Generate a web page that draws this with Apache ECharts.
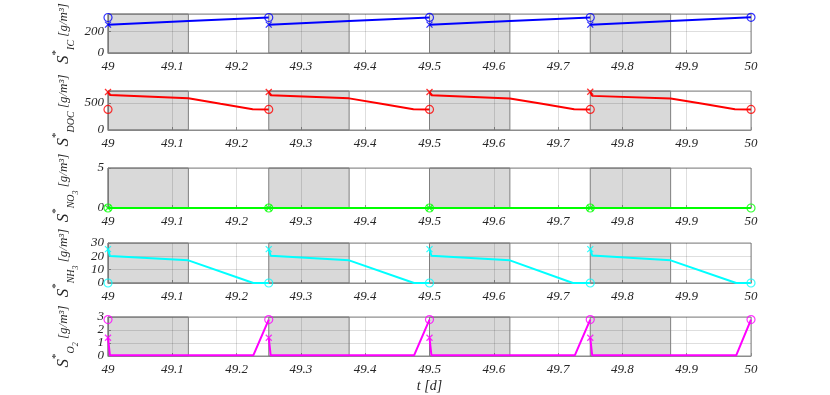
<!DOCTYPE html>
<html>
<head>
<meta charset="utf-8">
<script src="https://cdn.jsdelivr.net/npm/echarts@6/dist/echarts.min.js"></script>
<style>
html, body { margin: 0; padding: 0; background: #fff; }
#chart { width: 830px; height: 395px; }
</style>
</head>
<body>
<div id="chart"></div>
<script>
// 时间轴刻度
var xTicks = [49, 49.1, 49.2, 49.3, 49.4, 49.5, 49.6, 49.7, 49.8, 49.9, 50];
// 灰色阶段 (start, end)
var shadePhases = [[49, 49.125], [49.25, 49.375], [49.5, 49.625], [49.75, 49.875]];

// S_IC
var icLine = [[49, 266], [49.125, 300], [49.25, 333], [49.25, '-'],
  [49.25, 266], [49.375, 300], [49.5, 334], [49.5, '-'],
  [49.5, 266], [49.625, 300], [49.75, 333], [49.75, '-'],
  [49.75, 266], [49.875, 301], [50, 335]];
var icStart = [[49, 266], [49.25, 266], [49.5, 266], [49.75, 266]];
var icEnd = [[49, 333], [49.25, 333], [49.5, 334], [49.75, 333], [50, 335]];

// S_DOC
var docLine = [[49, 700], [49.003, 646], [49.125, 586], [49.175, 485], [49.225, 385], [49.25, 379], [49.25, '-'],
  [49.25, 700], [49.253, 640], [49.375, 584], [49.425, 485], [49.475, 385], [49.5, 379], [49.5, '-'],
  [49.5, 700], [49.503, 640], [49.625, 582], [49.675, 485], [49.725, 385], [49.75, 379], [49.75, '-'],
  [49.75, 705], [49.753, 630], [49.875, 580], [49.925, 485], [49.975, 385], [50, 379]];
var docStart = [[49, 700], [49.25, 700], [49.5, 700], [49.75, 705]];
var docEnd = [[49, 379], [49.25, 379], [49.5, 379], [49.75, 379], [50, 379]];

// S_NO3
var no3Line = [[49, 0], [50, 0]];
var no3Start = [[49, 0], [49.25, 0], [49.5, 0], [49.75, 0]];
var no3End = [[49, 0], [49.25, 0], [49.5, 0], [49.75, 0], [50, 0]];

// S_NH3
var nh3Line = [[49, 25.4], [49.003, 20.2], [49.125, 17], [49.226, 0], [49.25, 0], [49.25, '-'],
  [49.25, 25.4], [49.253, 20.4], [49.375, 17], [49.476, 0], [49.5, 0], [49.5, '-'],
  [49.5, 25.4], [49.503, 20.4], [49.625, 17], [49.723, 0], [49.75, 0], [49.75, '-'],
  [49.75, 25.4], [49.753, 20.6], [49.875, 17], [49.977, 0], [50, 0]];
var nh3Start = [[49, 25.4], [49.25, 25.4], [49.5, 25.4], [49.75, 25.4]];
var nh3End = [[49, 0], [49.25, 0], [49.5, 0], [49.75, 0], [50, 0]];

// S_O2
var o2Line = [[49, 1.4], [49.003, 0.05], [49.226, 0.05], [49.25, 2.8], [49.25, '-'],
  [49.25, 1.4], [49.253, 0.05], [49.476, 0.05], [49.5, 2.8], [49.5, '-'],
  [49.5, 1.4], [49.503, 0.05], [49.726, 0.05], [49.75, 2.8], [49.75, '-'],
  [49.75, 1.4], [49.753, 0.05], [49.977, 0.05], [50, 2.8]];
var o2Start = [[49, 1.4], [49.25, 1.4], [49.5, 1.4], [49.75, 1.4]];
var o2End = [[49, 2.8], [49.25, 2.8], [49.5, 2.8], [49.75, 2.8], [50, 2.8]];

// 各子图 y 轴
var yMax = [366, 720, 5, 30, 3];
var yStep = [200, 500, 5, 10, 1];
var colors = ['#0000ff', '#ff0000', '#00ff00', '#00ffff', '#ff00ff'];
var gridTops = [14, 91, 168, 243, 317];
var gridHeights = [39, 39, 40, 40, 39];

var yNames = [
  '{s|S}{sup|*}{sub|IC}{u| [g/m³]}',
  '{s|S}{sup|*}{sub|DOC}{u| [g/m³]}',
  '{s|S}{sup|*}{sub|NO}{sub2|3}{u| [g/m³]}',
  '{s|S}{sup|*}{sub|NH}{sub2|3}{u| [g/m³]}',
  '{s|S}{sup|*}{sub|O}{sub2|2}{u| [g/m³]}'
];

var serif = '"Liberation Serif", "DejaVu Serif", serif';
var crossPath = 'path://M0,0L10,10M10,0L0,10';

var chart = echarts.init(document.getElementById('chart'));

var grids = [], xAxes = [], yAxes = [], series = [];
var panels = [
  [icLine, icStart, icEnd],
  [docLine, docStart, docEnd],
  [no3Line, no3Start, no3End],
  [nh3Line, nh3Start, nh3End],
  [o2Line, o2Start, o2End]
];

for (var i = 0; i < 5; i++) {
  grids.push({
    left: 108, right: 79, top: gridTops[i], height: gridHeights[i],
    show: true, borderColor: '#8c8c8c', borderWidth: 1
  });
  xAxes.push({
    type: 'value', gridIndex: i, min: 49, max: 50, interval: 0.1,
    name: i === 4 ? 't [d]' : '',
    nameLocation: 'middle', nameGap: 23,
    nameTextStyle: { fontFamily: serif, fontStyle: 'italic', fontSize: 14, color: '#262626' },
    axisLine: { show: true, lineStyle: { color: '#8c8c8c' } },
    axisTick: { show: true, inside: true, length: 3, lineStyle: { color: '#8c8c8c' } },
    axisLabel: {
      fontFamily: serif, fontStyle: 'italic', fontSize: 13, color: '#262626', margin: 7,
      formatter: function (v) { return String(+v.toFixed(1)); }
    },
    splitLine: { show: true, lineStyle: { color: 'rgba(0,0,0,0.13)', width: 1 } }
  });
  (function (step) {
    yAxes.push({
      type: 'value', gridIndex: i, min: 0, max: yMax[i], interval: step,
      name: yNames[i], nameLocation: 'middle', nameRotate: 90, nameGap: 31,
      nameMoveOverlap: false,
      nameTextStyle: {
        fontFamily: serif, color: '#262626',
        rich: {
          s: { fontFamily: serif, fontStyle: 'italic', fontSize: 17, verticalAlign: 'middle', lineHeight: 26 },
          sup: { fontFamily: serif, fontSize: 11, verticalAlign: 'top', lineHeight: 26 },
          sub: { fontFamily: serif, fontStyle: 'italic', fontSize: 10, verticalAlign: 'bottom', lineHeight: 26, padding: [0, 0, 1, 0] },
          sub2: { fontFamily: serif, fontStyle: 'italic', fontSize: 8, verticalAlign: 'bottom', lineHeight: 26, padding: [0, 0, -3, 0] },
          u: { fontFamily: serif, fontStyle: 'italic', fontSize: 13, verticalAlign: 'middle', lineHeight: 26 }
        }
      },
      axisLine: { show: true, lineStyle: { color: '#8c8c8c' } },
      axisTick: { show: true, inside: true, length: 3, lineStyle: { color: '#8c8c8c' } },
      axisLabel: {
        fontFamily: serif, fontStyle: 'italic', fontSize: 13, color: '#262626', margin: 4,
        hideOverlap: false,
        formatter: function (v) { return (Math.abs(v / step - Math.round(v / step)) < 1e-6) ? String(v) : ''; }
      },
      splitLine: { show: true, lineStyle: { color: 'rgba(0,0,0,0.13)', width: 1 } }
    });
  })(yStep[i]);

  var areas = shadePhases.map(function (p) {
    return [{ xAxis: p[0] }, { xAxis: p[1] }];
  });

  series.push({
    type: 'line', xAxisIndex: i, yAxisIndex: i, data: panels[i][0],
    showSymbol: false, connectNulls: false, animation: false,
    lineStyle: { color: colors[i], width: 2 },
    markArea: {
      silent: true,
      itemStyle: { color: 'rgba(0,0,0,0.15)', borderColor: '#7f7f7f', borderWidth: 1 },
      data: areas
    },
    z: 3
  });
  series.push({
    type: 'scatter', xAxisIndex: i, yAxisIndex: i, data: panels[i][1],
    symbol: crossPath, symbolSize: 6, animation: false,
    itemStyle: { color: 'none', borderColor: colors[i], borderWidth: 1.3 },
    z: 4
  });
  series.push({
    type: 'scatter', xAxisIndex: i, yAxisIndex: i, data: panels[i][2],
    symbol: 'circle', symbolSize: 8, animation: false,
    itemStyle: { color: 'none', borderColor: colors[i], borderWidth: 1.2 },
    z: 4
  });
}

chart.setOption({
  backgroundColor: '#ffffff',
  animation: false,
  grid: grids,
  xAxis: xAxes,
  yAxis: yAxes,
  series: series
});
</script>
</body>
</html>
